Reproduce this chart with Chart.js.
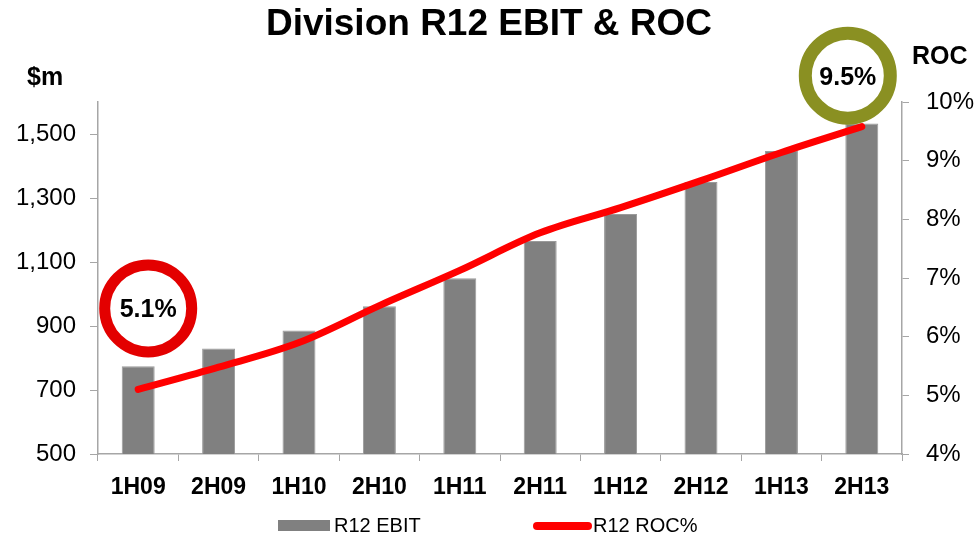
<!DOCTYPE html>
<html>
<head>
<meta charset="utf-8">
<script src="https://cdn.jsdelivr.net/npm/chart.js@4/dist/chart.umd.min.js"></script>
<style>
  html, body { margin: 0; padding: 0; background: #fff; }
  #wrap { width: 980px; height: 536px; }
</style>
</head>
<body>
<div id="wrap"><canvas id="ebitChart" width="980" height="536"></canvas></div>
<script>
  // chart data
  const periods = ['1H09','2H09','1H10','2H10','1H11','2H11','1H12','2H12','1H13','2H13'];
  const ebit = [774, 830, 886, 962, 1049, 1166, 1250, 1350, 1447, 1533];
  const roc = [5.1, 5.48, 5.9, 6.53, 7.13, 7.77, 8.2, 8.66, 9.14, 9.58];
  const ebitTicks = [500, 700, 900, 1100, 1300, 1500];
  const rocTicks = [4, 5, 6, 7, 8, 9, 10];
  const callouts = [
    { index: 0, text: '5.1%', color: '#E30000', dx: 10, dy: -81, ring: 11 },
    { index: 9, text: '9.5%', color: '#8A9022', dx: -14, dy: -51, ring: 13 }
  ];

  const FONT = "'Liberation Sans', Arial, sans-serif";
  const AXIS = '#A6A6A6';

  // titles, callout rings and legend
  const decorations = {
    id: 'decorations',
    afterDraw(chart) {
      const ctx = chart.ctx;
      const x = chart.scales.x, yr = chart.scales.yRoc;
      ctx.save();
      ctx.fillStyle = '#000';
      ctx.textBaseline = 'middle';

      ctx.font = 'bold 37px ' + FONT;
      ctx.textAlign = 'center';
      ctx.fillText('Division R12 EBIT & ROC', 489, 25);

      ctx.font = 'bold 25px ' + FONT;
      ctx.textAlign = 'left';
      ctx.fillText('$m', 27, 78);
      ctx.fillText('ROC', 912, 57);

      callouts.forEach(c => {
        const cx = x.getPixelForValue(c.index) + c.dx;
        const cy = yr.getPixelForValue(roc[c.index]) + c.dy;
        ctx.beginPath();
        ctx.arc(cx, cy, 49 - c.ring / 2, 0, Math.PI * 2);
        ctx.fillStyle = '#fff';
        ctx.fill();
        ctx.lineWidth = c.ring;
        ctx.strokeStyle = c.color;
        ctx.stroke();
        ctx.fillStyle = '#000';
        ctx.font = 'bold 25px ' + FONT;
        ctx.textAlign = 'center';
        ctx.fillText(c.text, cx, cy + 2);
      });

      // legend
      const ds = chart.data.datasets;
      ctx.font = '20px ' + FONT;
      ctx.textAlign = 'left';
      ctx.fillStyle = ds[1].backgroundColor;
      ctx.fillRect(278, 520, 52, 11);
      ctx.fillStyle = '#000';
      ctx.fillText(ds[1].label, 334, 526);

      ctx.beginPath();
      ctx.moveTo(537, 526);
      ctx.lineTo(588, 526);
      ctx.lineWidth = 8;
      ctx.lineCap = 'round';
      ctx.strokeStyle = ds[0].borderColor;
      ctx.stroke();
      ctx.fillStyle = '#000';
      ctx.fillText(ds[0].label, 593, 526);
      ctx.restore();
    }
  };

  new Chart(document.getElementById('ebitChart'), {
    type: 'bar',
    data: {
      labels: periods,
      datasets: [
        {
          type: 'line', label: 'R12 ROC%', data: roc, yAxisID: 'yRoc',
          borderColor: '#FF0000', borderWidth: 7, tension: 0.35,
          borderCapStyle: 'round', pointRadius: 0, fill: false, order: 0
        },
        {
          type: 'bar', label: 'R12 EBIT', data: ebit, yAxisID: 'yEbit',
          backgroundColor: '#808080', borderColor: '#9a9a9a', borderWidth: 1,
          barPercentage: 0.41, categoryPercentage: 1, order: 1
        }
      ]
    },
    options: {
      responsive: false,
      animation: false,
      layout: { padding: { top: 102, left: 0, right: 0, bottom: 0 } },
      plugins: { legend: { display: false }, tooltip: { enabled: false } },
      scales: {
        x: {
          grid: { drawOnChartArea: false, tickLength: 7, color: AXIS },
          border: { color: AXIS, width: 1.5 },
          ticks: { color: '#000', padding: 13, font: { family: FONT, size: 23, weight: 'bold' } },
          afterFit: s => { s.height = 82; }
        },
        yEbit: {
          position: 'left', min: 500, max: 1600,
          afterBuildTicks: s => { s.ticks = ebitTicks.map(v => ({ value: v })); },
          grid: { drawOnChartArea: false, tickLength: 8, color: AXIS },
          border: { color: AXIS, width: 1.5 },
          ticks: {
            color: '#000', padding: 14, font: { family: FONT, size: 24 },
            callback: v => v.toLocaleString('en-US')
          },
          afterFit: s => { s.width = 98; }
        },
        yRoc: {
          position: 'right', min: 4, max: 10,
          afterBuildTicks: s => { s.ticks = rocTicks.map(v => ({ value: v })); },
          grid: { drawOnChartArea: false, tickLength: 7, color: AXIS },
          border: { color: AXIS, width: 1.5 },
          ticks: {
            color: '#000', padding: 17, font: { family: FONT, size: 24 },
            callback: v => v + '%'
          },
          afterFit: s => { s.width = 78; }
        }
      }
    },
    plugins: [decorations]
  });
</script>
</body>
</html>
